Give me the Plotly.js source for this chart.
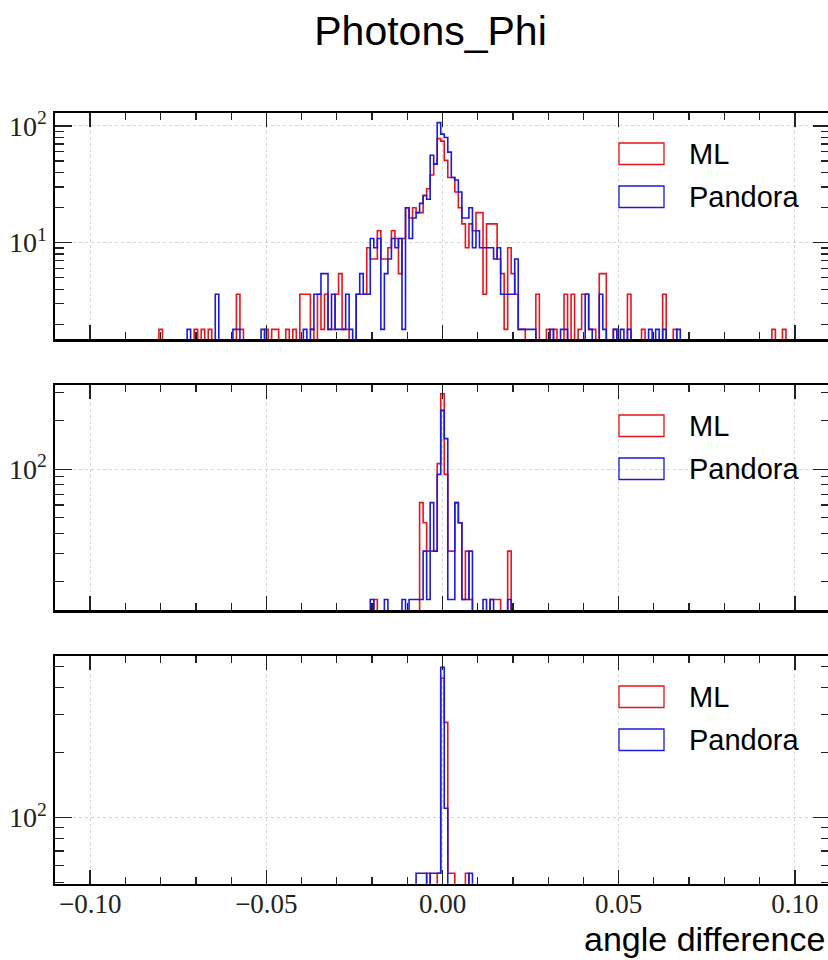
<!DOCTYPE html>
<html><head><meta charset="utf-8">
<script src="https://cdn.plot.ly/plotly-3.0.1.min.js"></script>
<style>html,body{margin:0;padding:0;overflow:hidden;background:#fff}#chart{width:840px;height:960px}</style>
</head><body><div id="chart"></div>
<script>
// ---------------- data ----------------
const chartTitle = 'Photons_Phi';
const xLabel = 'angle difference';
const seriesNames = ['ML', 'Pandora'];
const seriesColors = ['#e8141c', '#1a1ae0'];
const binWidth = 0.001;
// centre of the first bin of each panel
const firstBinCenter = [-0.080, -0.020, -0.007];
// value carried by one entry in each panel (weighted histograms)
const entryWeight = [1.81, 15.5, 55.3];

// panel 1 : bins -0.080 ... 0.097
const ml1 = [
  1,0,0,0,0,0,0,0,0,0,
  1,0,1,0,1,0,0,0,0,0,
  0,0,2,1,0,0,0,0,0,0,
  1,0,1,1,0,0,1,0,1,0,
  2,2,2,1,0,2,1,2,1,1,
  2,3,1,1,0,0,2,2,2,5,
  4,4,7,4,4,5,7,6,3,6,
  11,9,11,10,10,14,16,21,26,43,
  41,28,20,20,15,11,8,5,8,7,
  10,10,2,8,8,8,4,3,1,5,
  3,2,1,1,0,0,0,2,0,0,
  1,0,1,0,0,2,0,2,0,1,
  2,2,1,1,0,3,3,0,0,1,
  0,0,0,2,0,0,0,1,0,0,
  0,0,0,2,0,0,1,0,0,0,
  0,0,0,0,0,0,0,0,0,0,
  0,0,0,0,0,0,0,0,0,0,
  0,0,0,0,1,0,0,1
];
const pandora1 = [
  0,0,0,0,0,0,0,0,1,0,
  0,0,0,0,0,0,2,0,0,0,
  0,1,1,0,0,0,0,0,0,1,
  0,0,0,0,0,0,0,0,0,0,
  0,1,0,1,2,2,3,3,1,2,
  1,1,1,2,1,0,2,3,2,2,
  6,5,6,1,3,4,6,5,6,1,
  11,6,9,10,12,14,13,31,26,59,
  47,44,33,20,19,15,9,9,11,5,
  7,5,5,5,5,4,5,2,2,2,
  2,4,1,1,1,1,1,0,0,0,
  0,1,0,0,1,1,0,0,0,0,
  0,2,1,0,0,2,1,0,0,1,
  0,1,0,1,0,0,0,0,0,1,
  0,1,0,1,0,0,0,1,0,0,
  0,0,0,0,0,0,0,0,0,0,
  0,0,0,0,0,0,0,0,0,0,
  0,0,0,0,0,0,0,0
];
// panel 2 : bins -0.020 ... 0.019
const ml2 = [
  0,1,0,0,0,0,0,0,0,0,
  0,0,0,0,4,3,2,2,2,7,
  19,6,2,2,4,3,1,2,1,0,
  0,0,0,0,1,1,1,0,0,2
];
const pandora2 = [
  1,0,0,0,1,0,0,0,0,1,
  0,1,1,1,1,2,1,4,2,6,
  15,10,1,1,4,3,1,1,2,0,
  0,0,1,0,1,0,0,0,0,1
];
// panel 3 : bins -0.007 ... 0.008
const ml3 = [0,0,0,1,0,0,1,8,5,1,1,0,0,0,1,0];
const pandora3 = [1,1,1,0,1,1,1,9,2,0,0,0,0,0,0,1];

const panels = [[ml1, pandora1], [ml2, pandora2], [ml3, pandora3]];
const xTickVals = [-0.10, -0.05, 0.00, 0.05, 0.10];
const yMajorVals = [10, 100];
const yMajorText = ['10<sup>1</sup>', '10<sup>2</sup>'];

// ---------------- layout constants ----------------
const W = 840, H = 960, ML_ = 55, MR_ = 10;
const panelPx = [[113, 339], [385, 610], [656, 883.7]];      // top,bottom in px
const yRanges = [[0.1748, 2.111], [1.125, 2.524], [1.694, 2.749]];
const plotW = W - ML_ - MR_;
const px2paperX = px => (px - ML_) / plotW;
const px2paperY = py => 1 - py / H;

function stepXY(counts, c0, w) {
  const floor = 1e-3;
  const e0 = c0 - binWidth / 2;
  const x = [e0], y = [floor];
  counts.forEach((c, i) => { x.push(e0 + i * binWidth); y.push(c > 0 ? c * w : floor); });
  x.push(e0 + counts.length * binWidth); y.push(floor);
  return {x, y};
}

const minorLog = [];
[1, 10, 100].forEach(d => { for (let m = 2; m <= 9; m++) minorLog.push(m * d); });

const traces = [];
const layout = {
  width: W, height: H,
  margin: {l: ML_, r: MR_, t: 0, b: 0},
  paper_bgcolor: '#fff', plot_bgcolor: '#fff',
  showlegend: false,
  title: {text: chartTitle, x: px2paperX(430.5), xref: 'paper', xanchor: 'center',
          y: px2paperY(31), yanchor: 'middle',
          font: {family: 'Liberation Sans, Arial, sans-serif', size: 41, color: '#000'}},
  shapes: [], annotations: []
};

panels.forEach((pair, p) => {
  const sx = p === 0 ? '' : String(p + 1);
  pair.forEach((counts, s) => {
    const d = stepXY(counts, firstBinCenter[p], entryWeight[p]);
    traces.push({type: 'scatter', mode: 'lines', x: d.x, y: d.y, name: seriesNames[s],
      xaxis: 'x' + sx, yaxis: 'y' + sx, showlegend: false, hoverinfo: 'skip',
      line: {shape: 'hv', color: seriesColors[s], width: 1.6}});
  });
  layout['xaxis' + sx] = {
    domain: [0, 1], anchor: 'y' + sx, range: [-0.11, 0.11],
    tickmode: 'array', tickvals: xTickVals, tickformat: '.2f',
    showticklabels: p === 2, ticklabelstandoff: -6,
    ticks: 'inside', ticklen: 14, tickwidth: 1.5, tickcolor: '#222',
    minor: {tickmode: 'linear', tick0: 0, dtick: 0.01, ticks: 'inside', ticklen: 7, tickwidth: 1.2, tickcolor: '#222', showgrid: false},
    showline: true, linewidth: 2.5, linecolor: '#000', mirror: 'allticks',
    showgrid: true, gridcolor: '#d4d4d4', griddash: 'dot', gridwidth: 1, zeroline: false,
    tickfont: {family: 'Liberation Serif, serif', size: 27, color: '#222'}
  };
  layout['yaxis' + sx] = {
    domain: [px2paperY(panelPx[p][1]), px2paperY(panelPx[p][0])], anchor: 'x' + sx,
    type: 'log', range: yRanges[p],
    tickmode: 'array', tickvals: yMajorVals, ticktext: yMajorText,
    ticks: 'inside', ticklen: 17, tickwidth: 1.5, tickcolor: '#222',
    minor: {tickmode: 'array', tickvals: minorLog, ticks: 'inside', ticklen: 9, tickwidth: 1.2, tickcolor: '#222', showgrid: false},
    showline: true, linewidth: 2.5, linecolor: '#000', mirror: 'allticks',
    showgrid: true, gridcolor: '#d4d4d4', griddash: 'dot', gridwidth: 1, zeroline: false,
    tickfont: {family: 'Liberation Serif, serif', size: 28, color: '#222'}
  };
  // legend (patch outlines + labels)
  const top = panelPx[p][0];
  seriesNames.forEach((nm, s) => {
    const y0 = top + 30 + s * 43, y1 = y0 + 21.5;
    layout.shapes.push({type: 'rect', xref: 'paper', yref: 'paper',
      x0: px2paperX(619), x1: px2paperX(664), y0: px2paperY(y1), y1: px2paperY(y0),
      line: {color: seriesColors[s], width: 1.3}, fillcolor: 'rgba(0,0,0,0)'});
    layout.annotations.push({xref: 'paper', yref: 'paper', x: px2paperX(687), y: px2paperY((y0 + y1) / 2),
      xanchor: 'left', yanchor: 'middle', showarrow: false, text: nm,
      font: {family: 'Liberation Sans, Arial, sans-serif', size: 29, color: '#000'}});
  });
});

layout.annotations.push({xref: 'paper', yref: 'paper', x: px2paperX(827), y: 0, xanchor: 'right', yanchor: 'bottom',
  showarrow: false, text: xLabel, font: {family: 'Liberation Sans, Arial, sans-serif', size: 34, color: '#000'}});

Plotly.newPlot('chart', traces, layout, {staticPlot: true, displayModeBar: false});
</script></body></html>
